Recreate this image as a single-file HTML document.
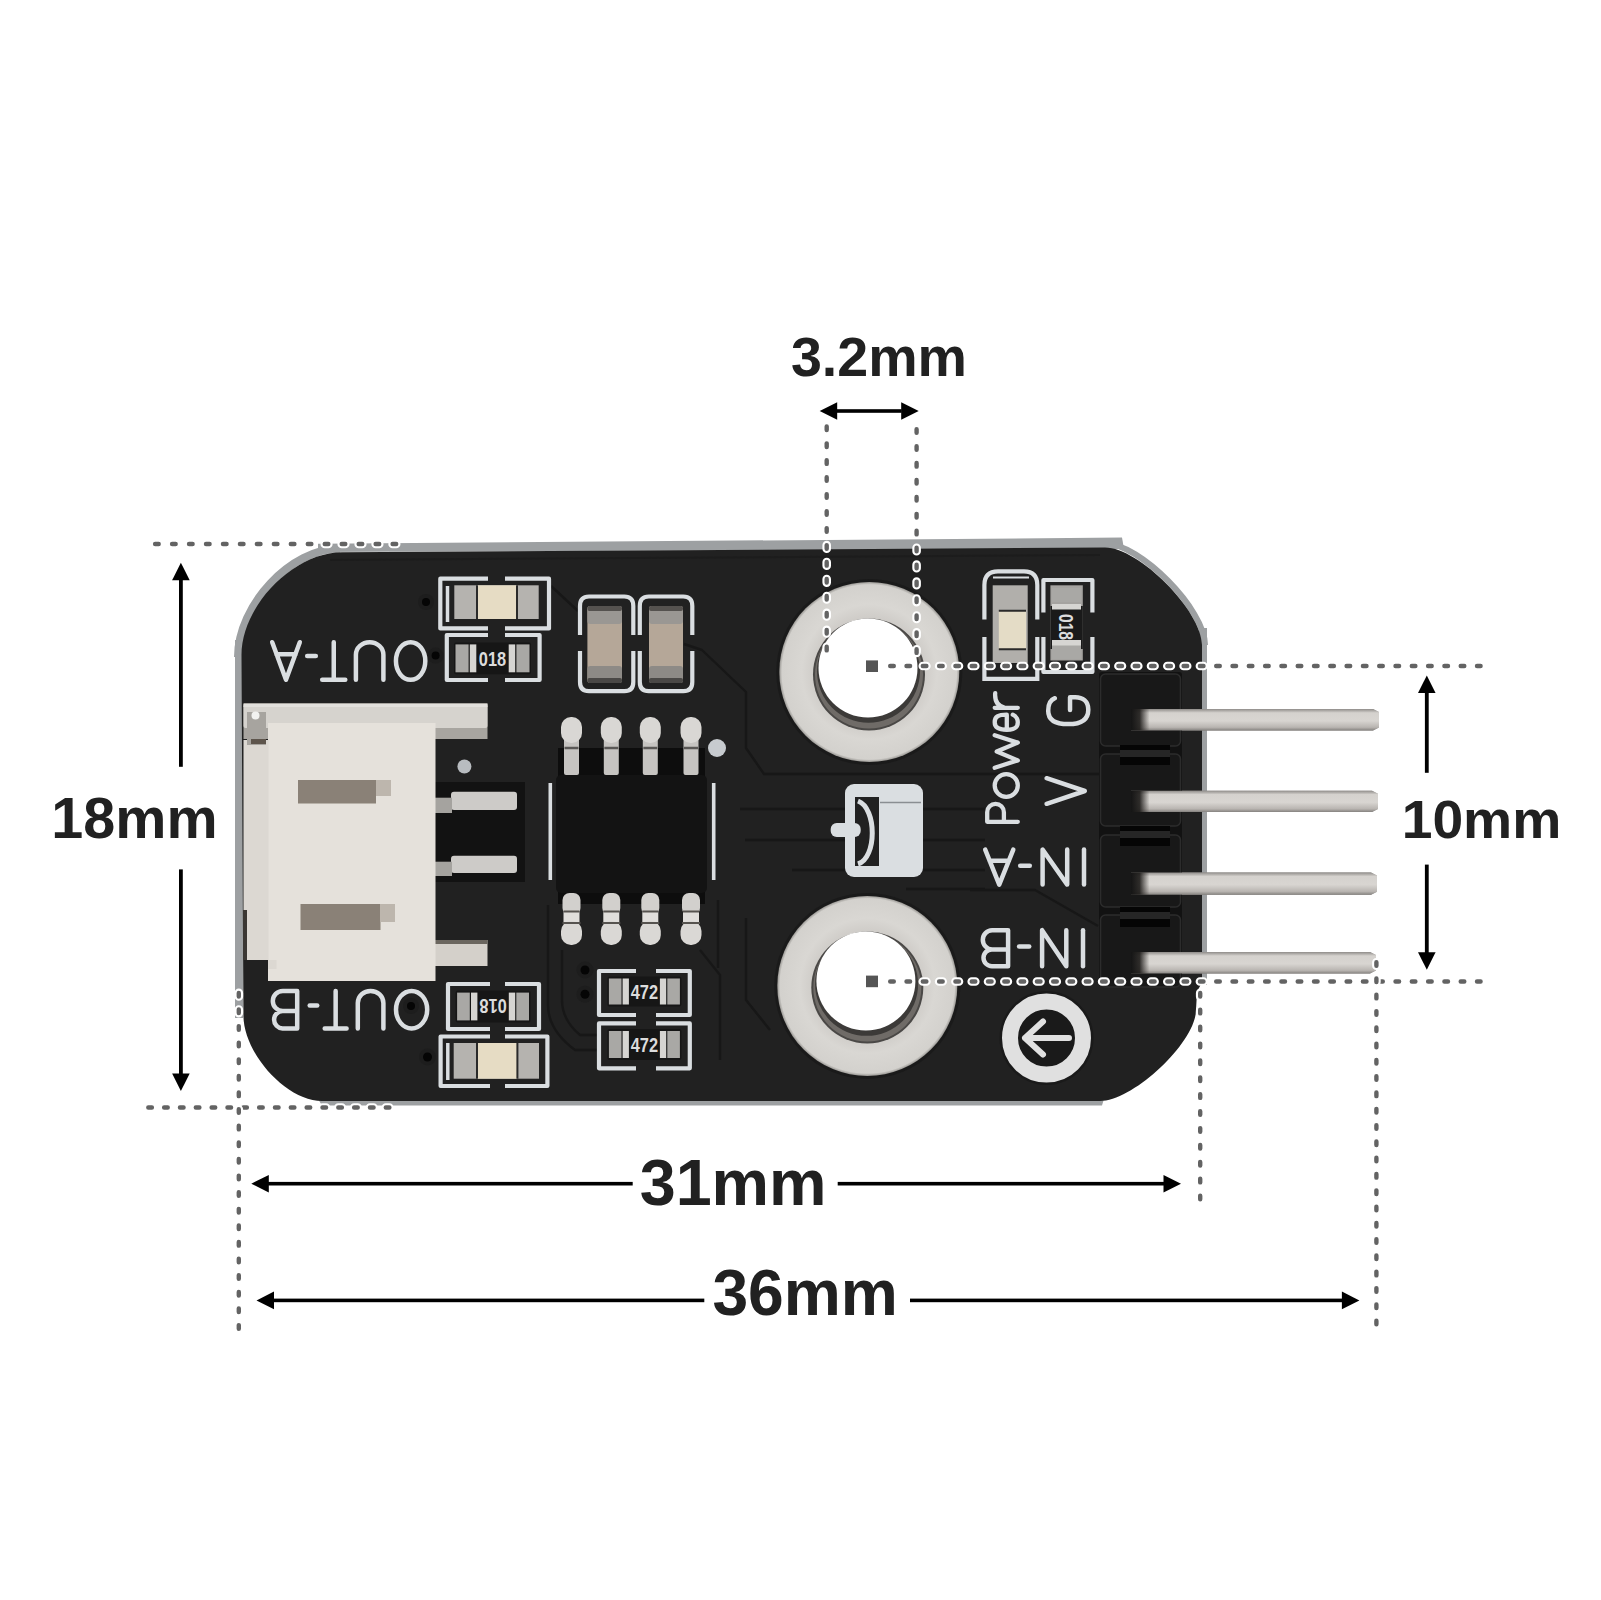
<!DOCTYPE html><html><head><meta charset="utf-8"><style>html,body{margin:0;padding:0;background:#fff;}svg{display:block}</style></head><body>
<svg width="1601" height="1600" viewBox="0 0 1601 1600">
<defs>
<linearGradient id="pinv" x1="0" y1="0" x2="0" y2="1"><stop offset="0" stop-color="#8f8c89"/><stop offset="0.18" stop-color="#d5d2ce"/><stop offset="0.55" stop-color="#d8d5d1"/><stop offset="0.85" stop-color="#b9b5b1"/><stop offset="1" stop-color="#85827f"/></linearGradient>
<linearGradient id="pinh" x1="0" y1="0" x2="1" y2="0"><stop offset="0" stop-color="#151515"/><stop offset="0.035" stop-color="#1c1a18" stop-opacity="0.9"/><stop offset="0.075" stop-color="#2a2624" stop-opacity="0"/><stop offset="1" stop-color="#1a1a1a" stop-opacity="0"/></linearGradient>
<radialGradient id="ring" cx="0.5" cy="0.5" r="0.5"><stop offset="0.55" stop-color="#cbc8c4"/><stop offset="0.75" stop-color="#d9d7d3"/><stop offset="0.97" stop-color="#d3d1cd"/><stop offset="1" stop-color="#9a9894"/></radialGradient>
<linearGradient id="cpin" x1="0" y1="0" x2="0" y2="1"><stop offset="0" stop-color="#e2e0dc"/><stop offset="0.5" stop-color="#c8c6c2"/><stop offset="1" stop-color="#8d8b88"/></linearGradient>
</defs>
<rect width="1601" height="1600" fill="#fff"/>
<path d="M318,552 L318,543.8 L1122,537.6 L1124,549 Z" fill="#9da0a2"/>
<rect x="235" y="640" width="8" height="378" fill="#9da0a2"/>
<rect x="1199" y="628" width="8" height="357" fill="#9da0a2"/>
<path d="M318,1099 H1104 L1102,1105.5 H322 Z" fill="#9da0a2"/>
<path d="M238,657 C238.0,604.9 291.0,548.5 340.0,548.5" stroke="#9da0a2" stroke-width="8" fill="none"/>
<path d="M1105,543.5 C1140.0,543.5 1205.0,609.5 1205.0,645.0" stroke="#9da0a2" stroke-width="6" fill="none"/>
<path d="M241.5,655 C241.5,605.7 293.8,552.3 342.0,552.3 L1105,547.5 C1139.0,547.5 1202.0,610.9 1202.0,645.0 L1202,982 L1197,992 L1196,1010 C1196.0,1041.8 1133.6,1101.0 1100.0,1101.0 L322,1101 C286.6,1101.0 243.4,1053.7 243.4,1015.0 Z" fill="#212121"/>
<path d="M330,560 L1100,555" stroke="#1c1c1c" stroke-width="2" fill="none" opacity="0.8"/>
<path d="M684,644 L702,650 L746,692 V748 L764,774 H1100" stroke="#171717" stroke-width="2.4" fill="none" stroke-linejoin="round"/>
<path d="M551,586 L578,611" stroke="#171717" stroke-width="2.4" fill="none" stroke-linejoin="round"/>
<path d="M740,809 H985 M745,840 H985 M792,870 H985 M906,889 H985" stroke="#171717" stroke-width="2.4" fill="none" stroke-linejoin="round"/>
<path d="M718,900 V968 M746,918 V1000 L770,1030" stroke="#171717" stroke-width="2.4" fill="none" stroke-linejoin="round"/>
<path d="M548,905 V1005 Q548,1030 575,1050 H598 M562,950 V1000 Q562,1020 580,1035 H598 M700,950 L720,975 V1060" stroke="#171717" stroke-width="2.4" fill="none" stroke-linejoin="round"/>
<path d="M970,890 H1035 L1098,926" stroke="#171717" stroke-width="2.4" fill="none" stroke-linejoin="round"/>
<path d="M1131,709 H1373 L1379,712 V727.5 L1373,730.5 H1131 Z" fill="url(#pinv)"/>
<path d="M1131,790.7 H1372 L1378,793.7 V809 L1372,812 H1131 Z" fill="url(#pinv)"/>
<path d="M1131,872.4 H1371 L1377,875.4 V891.8 L1371,894.8 H1131 Z" fill="url(#pinv)"/>
<path d="M1131,952 H1370 L1376,955 V970.6 L1370,973.6 H1131 Z" fill="url(#pinv)"/>
<rect x="1099" y="672" width="83" height="314" rx="3" fill="#121212"/>
<rect x="1100.5" y="674" width="80" height="72" rx="5" fill="#181818" stroke="#2c2c2c" stroke-width="1.5"/>
<rect x="1100.5" y="754" width="80" height="72" rx="5" fill="#181818" stroke="#2c2c2c" stroke-width="1.5"/>
<rect x="1100.5" y="835" width="80" height="72" rx="5" fill="#181818" stroke="#2c2c2c" stroke-width="1.5"/>
<rect x="1100.5" y="915" width="80" height="72" rx="5" fill="#181818" stroke="#2c2c2c" stroke-width="1.5"/>
<rect x="1120" y="745" width="50" height="20" fill="#262626"/>
<rect x="1120" y="745" width="50" height="5" fill="#050505"/>
<rect x="1120" y="757" width="50" height="8" fill="#050505"/>
<rect x="1120" y="826" width="50" height="20" fill="#262626"/>
<rect x="1120" y="826" width="50" height="5" fill="#050505"/>
<rect x="1120" y="838" width="50" height="8" fill="#050505"/>
<rect x="1120" y="907" width="50" height="20" fill="#262626"/>
<rect x="1120" y="907" width="50" height="5" fill="#050505"/>
<rect x="1120" y="919" width="50" height="8" fill="#050505"/>
<path d="M1131,709 H1373 L1379,712 V727.5 L1373,730.5 H1131 Z" fill="url(#pinv)"/>
<rect x="1131" y="709" width="248" height="21.5" fill="url(#pinh)"/>
<path d="M1131,790.7 H1372 L1378,793.7 V809 L1372,812 H1131 Z" fill="url(#pinv)"/>
<rect x="1131" y="790.7" width="247" height="21.299999999999955" fill="url(#pinh)"/>
<path d="M1131,872.4 H1371 L1377,875.4 V891.8 L1371,894.8 H1131 Z" fill="url(#pinv)"/>
<rect x="1131" y="872.4" width="246" height="22.399999999999977" fill="url(#pinh)"/>
<path d="M1131,952 H1370 L1376,955 V970.6 L1370,973.6 H1131 Z" fill="url(#pinv)"/>
<rect x="1131" y="952" width="245" height="21.600000000000023" fill="url(#pinh)"/>
<rect x="435" y="782" width="90" height="100" fill="#121212"/>
<rect x="451" y="791.7" width="66" height="18.299999999999955" rx="3" fill="#cdcbc8"/>
<rect x="435" y="797.7" width="17" height="15.299999999999955" fill="#a5a39f"/>
<rect x="451" y="855.7" width="66" height="17.299999999999955" rx="3" fill="#cdcbc8"/>
<rect x="435" y="861.7" width="17" height="14.299999999999955" fill="#a5a39f"/>
<rect x="243.5" y="703" width="244" height="36" fill="#a8a5a0"/>
<rect x="243.5" y="704" width="244" height="24" rx="2" fill="#d6d3ce"/>
<rect x="243.5" y="704" width="244" height="3" fill="#e2e0dc"/>
<rect x="435" y="940" width="52.5" height="26" fill="#d4d0ca"/>
<rect x="435" y="940" width="52.5" height="4" fill="#6b665f"/>
<rect x="268" y="723" width="167.5" height="258" fill="#e5e1db"/>
<rect x="243.5" y="740" width="25" height="220" fill="#dcd8d2"/>
<rect x="268" y="960" width="8.5" height="9" fill="#dcd8d2"/>
<rect x="247" y="712" width="19" height="33" fill="#a7a49f"/>
<rect x="251" y="739" width="15" height="5" fill="#5e554c"/>
<circle cx="255.5" cy="715.5" r="4" fill="#f2f2f0"/>
<rect x="243" y="910" width="4" height="50" fill="#3b3733"/>
<rect x="298" y="780" width="78" height="23.5" fill="#8a8177"/>
<rect x="376" y="780" width="15" height="16" fill="#bdb6ad"/>
<rect x="300.5" y="904" width="80" height="26" fill="#8a8177"/>
<rect x="380" y="904" width="15" height="18" fill="#bdb6ad"/>
<circle cx="464.4" cy="766.5" r="7" fill="#b8bcc0"/>
<circle cx="869.3" cy="672" r="93" fill="#1a1a1a"/>
<circle cx="869.3" cy="672" r="90" fill="url(#ring)"/>
<circle cx="869" cy="674.5" r="56" fill="#4a4846"/>
<circle cx="869" cy="674.5" r="54" fill="#6f6b67"/>
<circle cx="868.5" cy="671.25" r="51.5" fill="#3c3a38"/>
<circle cx="868" cy="668" r="49.5" fill="#fff"/>
<circle cx="867.3" cy="985.9" r="93" fill="#1a1a1a"/>
<circle cx="867.3" cy="985.9" r="90" fill="url(#ring)"/>
<circle cx="867.3" cy="987.5" r="56" fill="#4a4846"/>
<circle cx="867.3" cy="987.5" r="54" fill="#6f6b67"/>
<circle cx="866.5999999999999" cy="984.3" r="51.5" fill="#3c3a38"/>
<circle cx="865.9" cy="981.1" r="49.5" fill="#fff"/>
<rect x="558" y="748" width="147" height="30" fill="#0d0d0d"/>
<rect x="558" y="890" width="147" height="14" fill="#0d0d0d"/>
<rect x="564.0" y="735" width="15" height="40" rx="2" fill="#c6c4c1"/>
<rect x="561.0" y="717" width="21" height="26" rx="10" fill="#d9d7d4"/>
<path d="M564.5,748 H578.5" stroke="#5a5856" stroke-width="2.5"/>
<rect x="562.5" y="893" width="18" height="22" rx="7" fill="#d2d0cd"/>
<rect x="563.5" y="912" width="16" height="12" fill="#e0dedb"/>
<rect x="561.0" y="921" width="21" height="24" rx="10" fill="#dad8d5"/>
<path d="M563.5,911.5 H579.5 M562.5,923 H580.5" stroke="#56534f" stroke-width="2.2"/>
<rect x="603.8" y="735" width="15" height="40" rx="2" fill="#c6c4c1"/>
<rect x="600.8" y="717" width="21" height="26" rx="10" fill="#d9d7d4"/>
<path d="M604.3,748 H618.3" stroke="#5a5856" stroke-width="2.5"/>
<rect x="602.3" y="893" width="18" height="22" rx="7" fill="#d2d0cd"/>
<rect x="603.3" y="912" width="16" height="12" fill="#e0dedb"/>
<rect x="600.8" y="921" width="21" height="24" rx="10" fill="#dad8d5"/>
<path d="M603.3,911.5 H619.3 M602.3,923 H620.3" stroke="#56534f" stroke-width="2.2"/>
<rect x="642.8" y="735" width="15" height="40" rx="2" fill="#c6c4c1"/>
<rect x="639.8" y="717" width="21" height="26" rx="10" fill="#d9d7d4"/>
<path d="M643.3,748 H657.3" stroke="#5a5856" stroke-width="2.5"/>
<rect x="641.3" y="893" width="18" height="22" rx="7" fill="#d2d0cd"/>
<rect x="642.3" y="912" width="16" height="12" fill="#e0dedb"/>
<rect x="639.8" y="921" width="21" height="24" rx="10" fill="#dad8d5"/>
<path d="M642.3,911.5 H658.3 M641.3,923 H659.3" stroke="#56534f" stroke-width="2.2"/>
<rect x="683.5" y="735" width="15" height="40" rx="2" fill="#c6c4c1"/>
<rect x="680.5" y="717" width="21" height="26" rx="10" fill="#d9d7d4"/>
<path d="M684,748 H698" stroke="#5a5856" stroke-width="2.5"/>
<rect x="682" y="893" width="18" height="22" rx="7" fill="#d2d0cd"/>
<rect x="683" y="912" width="16" height="12" fill="#e0dedb"/>
<rect x="680.5" y="921" width="21" height="24" rx="10" fill="#dad8d5"/>
<path d="M683,911.5 H699 M682,923 H700" stroke="#56534f" stroke-width="2.2"/>
<rect x="556" y="775" width="151" height="118" rx="5" fill="#131313"/>
<path d="M550.3,783 V880 M713.7,783 V880" stroke="#dadee1" stroke-width="3.6" fill="none"/>
<circle cx="717" cy="748" r="9" fill="#c7cbcf"/>
<path d="M488,578.7 H440.3 V628.4 H488 M505,578.7 H549 V628.4 H505" stroke="#dadee1" stroke-width="4.2" fill="none" stroke-linejoin="round"/>
<path d="M447.5,586 V622" stroke="#dadee1" stroke-width="3.5"/>
<rect x="454.3" y="585.3" width="84.40000000000003" height="33.700000000000045" fill="#b5b3af"/><rect x="477" y="585.3" width="40" height="33.700000000000045" fill="#e6dcc4"/><path d="M477,585.3 V619 M517,585.3 V619" stroke="#2a2a2a" stroke-width="2"/>
<path d="M488,635 H446.8 V680 H488 M505,635 H539.6 V680 H505" stroke="#dadee1" stroke-width="4.2" fill="none" stroke-linejoin="round"/>
<rect x="454" y="642.4" width="77" height="31.899999999999977" rx="2" fill="#161616"/><rect x="455.5" y="644.4" width="13.1" height="27.899999999999977" fill="#a9a8a5"/><rect x="516.4" y="644.4" width="13.1" height="27.899999999999977" fill="#a9a8a5"/><rect x="469.8" y="644.4" width="6.5" height="27.899999999999977" fill="#d6d5d2"/><rect x="508.7" y="644.4" width="6.5" height="27.899999999999977" fill="#d6d5d2"/><text transform="translate(492.5,658.3) rotate(0) scale(0.78,1) translate(0,7.6)" text-anchor="middle" font-family="Liberation Sans" font-weight="bold" font-size="21" fill="#dcdcdc">018</text>
<path d="M580,635 V606 Q580,596.5 589,596.5 H624.3 Q633.3,596.5 633.3,606 V635 M580,651 V682 Q580,691.2 589,691.2 H624.3 Q633.3,691.2 633.3,682 V651" stroke="#dadee1" stroke-width="4.2" fill="none"/>
<rect x="587.4" y="606" width="34.60000000000002" height="77" rx="3" fill="#b5a798"/>
<rect x="587.4" y="606" width="34.60000000000002" height="18" rx="3" fill="#9a9793"/>
<rect x="587.4" y="606" width="34.60000000000002" height="5" rx="2" fill="#55524f"/>
<rect x="587.4" y="666" width="34.60000000000002" height="17" rx="3" fill="#8d8a86"/>
<rect x="587.4" y="678" width="34.60000000000002" height="5" rx="2" fill="#4a4846"/>
<path d="M639.8,635 V606 Q639.8,596.5 648.8,596.5 H683.3 Q692.3,596.5 692.3,606 V635 M639.8,651 V682 Q639.8,691.2 648.8,691.2 H683.3 Q692.3,691.2 692.3,682 V651" stroke="#dadee1" stroke-width="4.2" fill="none"/>
<rect x="649" y="606" width="34" height="77" rx="3" fill="#b5a798"/>
<rect x="649" y="606" width="34" height="18" rx="3" fill="#9a9793"/>
<rect x="649" y="606" width="34" height="5" rx="2" fill="#55524f"/>
<rect x="649" y="666" width="34" height="17" rx="3" fill="#8d8a86"/>
<rect x="649" y="678" width="34" height="5" rx="2" fill="#4a4846"/>
<path d="M490,984 H448 V1029 H490 M505,984 H539 V1029 H505" stroke="#dadee1" stroke-width="4.2" fill="none" stroke-linejoin="round"/>
<rect x="455.6" y="990.6" width="74.89999999999998" height="31.799999999999955" rx="2" fill="#161616"/><rect x="457.1" y="992.6" width="12.7" height="27.799999999999955" fill="#a9a8a5"/><rect x="516.3" y="992.6" width="12.7" height="27.799999999999955" fill="#a9a8a5"/><rect x="471.0" y="992.6" width="6.4" height="27.799999999999955" fill="#d6d5d2"/><rect x="508.8" y="992.6" width="6.4" height="27.799999999999955" fill="#d6d5d2"/><text transform="translate(493.1,1006.5) rotate(180) scale(0.78,1) translate(0,7.6)" text-anchor="middle" font-family="Liberation Sans" font-weight="bold" font-size="21" fill="#dcdcdc">018</text>
<path d="M490,1036.5 H440.6 V1086 H490 M505,1036.5 H547.4 V1086 H505" stroke="#dadee1" stroke-width="4.2" fill="none" stroke-linejoin="round"/>
<path d="M447.8,1043 V1080" stroke="#dadee1" stroke-width="3.5"/>
<rect x="453.7" y="1043" width="85.30000000000001" height="35.700000000000045" fill="#b5b3af"/><rect x="477" y="1043" width="40.39999999999998" height="35.700000000000045" fill="#e6dcc4"/><path d="M477,1043 V1078.7 M517.4,1043 V1078.7" stroke="#2a2a2a" stroke-width="2"/>
<path d="M636,971 H599 V1015 H636 M656,971 H689.8 V1015 H656" stroke="#dadee1" stroke-width="4.2" fill="none" stroke-linejoin="round"/>
<rect x="607.4" y="976.5" width="74.0" height="30.0" rx="2" fill="#161616"/><rect x="608.9" y="978.5" width="12.6" height="26.0" fill="#a9a8a5"/><rect x="667.3" y="978.5" width="12.6" height="26.0" fill="#a9a8a5"/><rect x="622.6" y="978.5" width="6.3" height="26.0" fill="#d6d5d2"/><rect x="659.9" y="978.5" width="6.3" height="26.0" fill="#d6d5d2"/><text transform="translate(644.4,991.5) rotate(0) scale(0.78,1) translate(0,7.6)" text-anchor="middle" font-family="Liberation Sans" font-weight="bold" font-size="21" fill="#dcdcdc">472</text>
<path d="M636,1023.4 H599 V1068.3 H636 M656,1023.4 H689.8 V1068.3 H656" stroke="#dadee1" stroke-width="4.2" fill="none" stroke-linejoin="round"/>
<rect x="607.4" y="1029" width="74.0" height="31" rx="2" fill="#161616"/><rect x="608.9" y="1031" width="12.6" height="27" fill="#a9a8a5"/><rect x="667.3" y="1031" width="12.6" height="27" fill="#a9a8a5"/><rect x="622.6" y="1031" width="6.3" height="27" fill="#d6d5d2"/><rect x="659.9" y="1031" width="6.3" height="27" fill="#d6d5d2"/><text transform="translate(644.4,1044.5) rotate(0) scale(0.78,1) translate(0,7.6)" text-anchor="middle" font-family="Liberation Sans" font-weight="bold" font-size="21" fill="#dcdcdc">472</text>
<path d="M984.4,619.4 V585 Q984.4,571.4 998,571.4 H1024 Q1037.3,571.4 1037.3,585 V619.4 M984.4,637 V678.9 H1037.3 V637" stroke="#dadee1" stroke-width="4.2" fill="none"/>
<path d="M993,577.5 H1029" stroke="#dadee1" stroke-width="2"/>
<rect x="992.7" y="585.3" width="35" height="77.7" fill="#b1afab"/><rect x="998.8" y="610.7" width="27.2" height="38.5" fill="#e4dcc6"/>
<path d="M998.8,610.7 H1026 M998.8,649.2 H1026" stroke="#2a2a2a" stroke-width="2"/>
<path d="M1043.4,612.4 V580 H1092.4 V612.4 M1043.4,637 V672 H1092.4 V637" stroke="#dadee1" stroke-width="4.2" fill="none" stroke-linejoin="round"/>
<rect x="1050.4" y="585.3" width="32.4" height="75.2" fill="#a5a3a0"/><rect x="1050.4" y="606" width="32.4" height="43" fill="#1a1a1a"/>
<rect x="1052" y="588" width="29" height="14" fill="#a9a8a5"/><rect x="1052" y="645" width="29" height="14" fill="#a9a8a5"/><rect x="1052" y="604" width="29" height="5.5" fill="#d6d5d2"/><rect x="1052" y="640" width="29" height="5.5" fill="#d6d5d2"/>
<text transform="translate(1066.6,627) rotate(90) scale(0.78,1) translate(0,7.2)" text-anchor="middle" font-family="Liberation Sans" font-weight="bold" font-size="20" fill="#dcdcdc">018</text>
<circle cx="426" cy="602" r="8" fill="#1d1d1d"/><circle cx="426" cy="602" r="4" fill="#050505"/>
<circle cx="435.6" cy="655.6" r="8" fill="#1d1d1d"/><circle cx="435.6" cy="655.6" r="4" fill="#050505"/>
<circle cx="585" cy="970" r="8.5" fill="#1d1d1d"/><circle cx="585" cy="970" r="4.5" fill="#050505"/>
<circle cx="585" cy="994.3" r="8.5" fill="#1d1d1d"/><circle cx="585" cy="994.3" r="4.5" fill="#050505"/>
<circle cx="427.5" cy="1057" r="8.5" fill="#1d1d1d"/><circle cx="427.5" cy="1057" r="4.5" fill="#050505"/>
<circle cx="411" cy="1006" r="8" fill="#1d1d1d"/><circle cx="411" cy="1006" r="4" fill="#050505"/>
<rect x="845" y="784" width="78" height="93" rx="9" fill="#dadee1"/>
<path d="M855,797 H879 V866 H855 Z" fill="#212121"/>
<path d="M858,801 C877,808 877,858 858,864" stroke="#dadee1" stroke-width="5" fill="none"/>
<rect x="830.7" y="823" width="30" height="14" rx="6" fill="#dadee1"/>
<path d="M880,802.5 H921" stroke="#8a8e92" stroke-width="1.5"/>
<circle cx="1046.5" cy="1038" r="47" fill="#1a1a1a"/>
<circle cx="1046.5" cy="1038" r="36.5" fill="none" stroke="#e0e0e0" stroke-width="16"/>
<path d="M1069,1038 H1025 M1043,1021.5 L1025,1038 L1043,1054.5" stroke="#e0e0e0" stroke-width="6" fill="none" stroke-linecap="round" stroke-linejoin="round"/>
<g transform="translate(427.5,682) rotate(180)" fill="none" stroke="#dadee1" stroke-width="4.5" stroke-linecap="round" stroke-linejoin="round"><ellipse cx="16.88" cy="21.00" rx="14.68" ry="18.80"/><path d="M44.10,2.2 V27.20 A13.75,12.60 0 0 0 71.60,27.20 V2.2"/><path d="M82.20,2.2 H105.30 M93.75,2.2 V39.80"/><path d="M111.70,26.00 H120.30"/><path d="M127.70,39.80 L141.50,2.2 L155.30,39.80 M131.90,27.72 H151.10"/></g>
<g transform="translate(429.4,1030.6) rotate(180)" fill="none" stroke="#dadee1" stroke-width="4.5" stroke-linecap="round" stroke-linejoin="round"><ellipse cx="17.80" cy="20.95" rx="15.60" ry="18.75"/><path d="M46.00,2.2 V27.54 A12.80,12.16 0 0 0 71.60,27.54 V2.2"/><path d="M82.80,2.2 H104.70 M93.75,2.2 V39.70"/><path d="M112.20,25.00 H119.70"/><path d="M132.20,2.2 V39.70 H146.60 A10.00,10.00 0 0 0 146.60,19.69 H132.20 M132.20,2.2 H146.85 A8.75,8.75 0 0 1 146.85,19.69"/></g>
<g transform="translate(1087,886.8) rotate(180)" fill="none" stroke="#dadee1" stroke-width="4.5" stroke-linecap="round" stroke-linejoin="round"><path d="M3.00,2.2 V37.20"/><path d="M19.80,37.20 V2.2 L44.40,37.20 V2.2"/><path d="M57.20,21.00 H66.80"/><path d="M73.70,37.20 L87.75,2.2 L101.80,37.20 M78.00,26.00 H97.50"/></g>
<g transform="translate(1086,968.4) rotate(180)" fill="none" stroke="#dadee1" stroke-width="4.5" stroke-linecap="round" stroke-linejoin="round"><path d="M3.00,2.2 V38.20"/><path d="M19.70,38.20 V2.2 L43.90,38.20 V2.2"/><path d="M56.80,22.00 H66.90"/><path d="M77.90,2.2 V38.20 H93.89 A9.61,9.61 0 0 0 93.89,18.99 H77.90 M77.90,2.2 H94.11 A8.39,8.39 0 0 1 94.11,18.99"/></g>
<g transform="translate(985,824) rotate(-90)" fill="none" stroke="#dadee1" stroke-width="4.3" stroke-linecap="round" stroke-linejoin="round"><path d="M2.20,32.80 V2.2 H11.75 A8.35,8.35 0 0 1 11.75,18.90 H2.20"/><ellipse cx="38.50" cy="21.25" rx="11.30" ry="11.55"/><path d="M56.20,9.70 L63.62,32.80 L72.50,11.70 L81.38,32.80 L88.80,9.70"/><path d="M94.70,21.80 H109.30 C109.30,13.00 107.21,9.70 101.75,9.70 C95.90,9.70 94.20,14.38 94.20,21.80 C94.20,29.50 96.29,32.80 101.75,32.80 C106.62,32.80 108.30,29.80 109.30,27.80"/><path d="M116.20,9.70 V32.80 M116.20,19.88 C118.20,11.62 124.45,9.70 130.80,10.20"/></g>
<g transform="translate(1044.4,806) rotate(-90)" fill="none" stroke="#dadee1" stroke-width="4.5" stroke-linecap="round" stroke-linejoin="round"><path d="M2.20,2.2 L15.00,40.40 L27.80,2.2"/></g>
<g transform="translate(1046,726.3) rotate(-90)" fill="none" stroke="#dadee1" stroke-width="4.5" stroke-linecap="round" stroke-linejoin="round"><path d="M28.10,8.90 C26.10,3.56 21.28,2.2 15.65,2.2 C5.63,2.2 2.20,10.68 2.20,22.25 C2.20,34.71 6.26,42.30 16.65,42.30 C25.04,42.30 29.10,36.49 29.10,29.37 V24.03 H16.28"/></g>
<path d="M155.10,544.00 L396.20,544.00" stroke="#fff" stroke-width="8.600000000000001" stroke-linecap="round" stroke-dasharray="3.60 13.364" fill="none"/><path d="M155.10,544.00 L396.20,544.00" stroke="#636363" stroke-width="4.4" stroke-linecap="round" stroke-dasharray="3.60 13.364" fill="none"/>
<path d="M148.30,1107.50 L389.40,1107.50" stroke="#fff" stroke-width="8.600000000000001" stroke-linecap="round" stroke-dasharray="3.60 12.233" fill="none"/><path d="M148.30,1107.50 L389.40,1107.50" stroke="#636363" stroke-width="4.4" stroke-linecap="round" stroke-dasharray="3.60 12.233" fill="none"/>
<path d="M826.70,426.40 L826.70,650.40" stroke="#fff" stroke-width="8.600000000000001" stroke-linecap="round" stroke-dasharray="3.60 13.354" fill="none"/><path d="M826.70,426.40 L826.70,650.40" stroke="#636363" stroke-width="4.4" stroke-linecap="round" stroke-dasharray="3.60 13.354" fill="none"/>
<path d="M916.60,429.20 L916.60,652.90" stroke="#fff" stroke-width="8.600000000000001" stroke-linecap="round" stroke-dasharray="3.60 13.331" fill="none"/><path d="M916.60,429.20 L916.60,652.90" stroke="#636363" stroke-width="4.4" stroke-linecap="round" stroke-dasharray="3.60 13.331" fill="none"/>
<path d="M890.20,666.00 L1480.60,666.00" stroke="#fff" stroke-width="8.600000000000001" stroke-linecap="round" stroke-dasharray="3.60 12.700" fill="none"/><path d="M890.20,666.00 L1480.60,666.00" stroke="#636363" stroke-width="4.4" stroke-linecap="round" stroke-dasharray="3.60 12.700" fill="none"/>
<path d="M890.20,981.50 L1480.60,981.50" stroke="#fff" stroke-width="8.600000000000001" stroke-linecap="round" stroke-dasharray="3.60 12.700" fill="none"/><path d="M890.20,981.50 L1480.60,981.50" stroke="#636363" stroke-width="4.4" stroke-linecap="round" stroke-dasharray="3.60 12.700" fill="none"/>
<path d="M238.80,992.90 L238.80,1328.70" stroke="#fff" stroke-width="8.600000000000001" stroke-linecap="round" stroke-dasharray="3.60 13.010" fill="none"/><path d="M238.80,992.90 L238.80,1328.70" stroke="#636363" stroke-width="4.4" stroke-linecap="round" stroke-dasharray="3.60 13.010" fill="none"/>
<path d="M1200.20,992.90 L1200.20,1199.30" stroke="#fff" stroke-width="8.600000000000001" stroke-linecap="round" stroke-dasharray="3.60 13.300" fill="none"/><path d="M1200.20,992.90 L1200.20,1199.30" stroke="#636363" stroke-width="4.4" stroke-linecap="round" stroke-dasharray="3.60 13.300" fill="none"/>
<path d="M1376.40,962.20 L1376.40,1324.30" stroke="#fff" stroke-width="8.600000000000001" stroke-linecap="round" stroke-dasharray="3.60 12.695" fill="none"/><path d="M1376.40,962.20 L1376.40,1324.30" stroke="#636363" stroke-width="4.4" stroke-linecap="round" stroke-dasharray="3.60 12.695" fill="none"/>
<rect x="866" y="660.4" width="12" height="11.6" fill="#555"/>
<rect x="866" y="975.6" width="12" height="11.6" fill="#555"/>
<rect x="836.7" y="409.20" width="65.0" height="3.6" fill="#000"/>
<path d="M819.7,411 L837.2,402.2 L837.2,419.8 Z" fill="#000"/>
<path d="M918.7,411 L901.2,402.2 L901.2,419.8 Z" fill="#000"/>
<rect x="179.00" y="575.0" width="3.8" height="191.8" fill="#000"/>
<path d="M180.9,562.7 L172.1,580.2 L189.70000000000002,580.2 Z" fill="#000"/>
<rect x="179.00" y="869.4" width="3.8" height="208.6" fill="#000"/>
<path d="M180.9,1091 L172.1,1073.5 L189.70000000000002,1073.5 Z" fill="#000"/>
<rect x="1424.90" y="688.0" width="3.8" height="84.8" fill="#000"/>
<path d="M1426.8,675.5 L1418.0,693.0 L1435.6,693.0 Z" fill="#000"/>
<rect x="1424.90" y="864.6" width="3.8" height="92.4" fill="#000"/>
<path d="M1426.8,969.8 L1418.0,952.3 L1435.6,952.3 Z" fill="#000"/>
<rect x="265.0" y="1181.90" width="367.7" height="3.6" fill="#000"/>
<path d="M251.3,1183.7 L268.8,1174.9 L268.8,1192.5 Z" fill="#000"/>
<rect x="837.7" y="1181.90" width="329.3" height="3.6" fill="#000"/>
<path d="M1181,1183.7 L1163.5,1174.9 L1163.5,1192.5 Z" fill="#000"/>
<rect x="270.0" y="1298.60" width="434.3" height="3.6" fill="#000"/>
<path d="M256.5,1300.4 L274.0,1291.6000000000001 L274.0,1309.2 Z" fill="#000"/>
<rect x="910.0" y="1298.60" width="435.0" height="3.6" fill="#000"/>
<path d="M1359.4,1300.4 L1341.9,1291.6000000000001 L1341.9,1309.2 Z" fill="#000"/>
<text transform="translate(790.89,376.15) scale(0.5560,0.5465)" font-family="Liberation Sans" font-weight="bold" font-size="100" fill="#212121">3.2mm</text>
<text transform="translate(51.35,838.02) scale(0.5755,0.5761)" font-family="Liberation Sans" font-weight="bold" font-size="100" fill="#212121">18mm</text>
<text transform="translate(1401.69,837.86) scale(0.5523,0.5437)" font-family="Liberation Sans" font-weight="bold" font-size="100" fill="#212121">10mm</text>
<text transform="translate(639.71,1204.95) scale(0.6466,0.6465)" font-family="Liberation Sans" font-weight="bold" font-size="100" fill="#212121">31mm</text>
<text transform="translate(712.42,1314.95) scale(0.6416,0.6521)" font-family="Liberation Sans" font-weight="bold" font-size="100" fill="#212121">36mm</text>
</svg></body></html>
